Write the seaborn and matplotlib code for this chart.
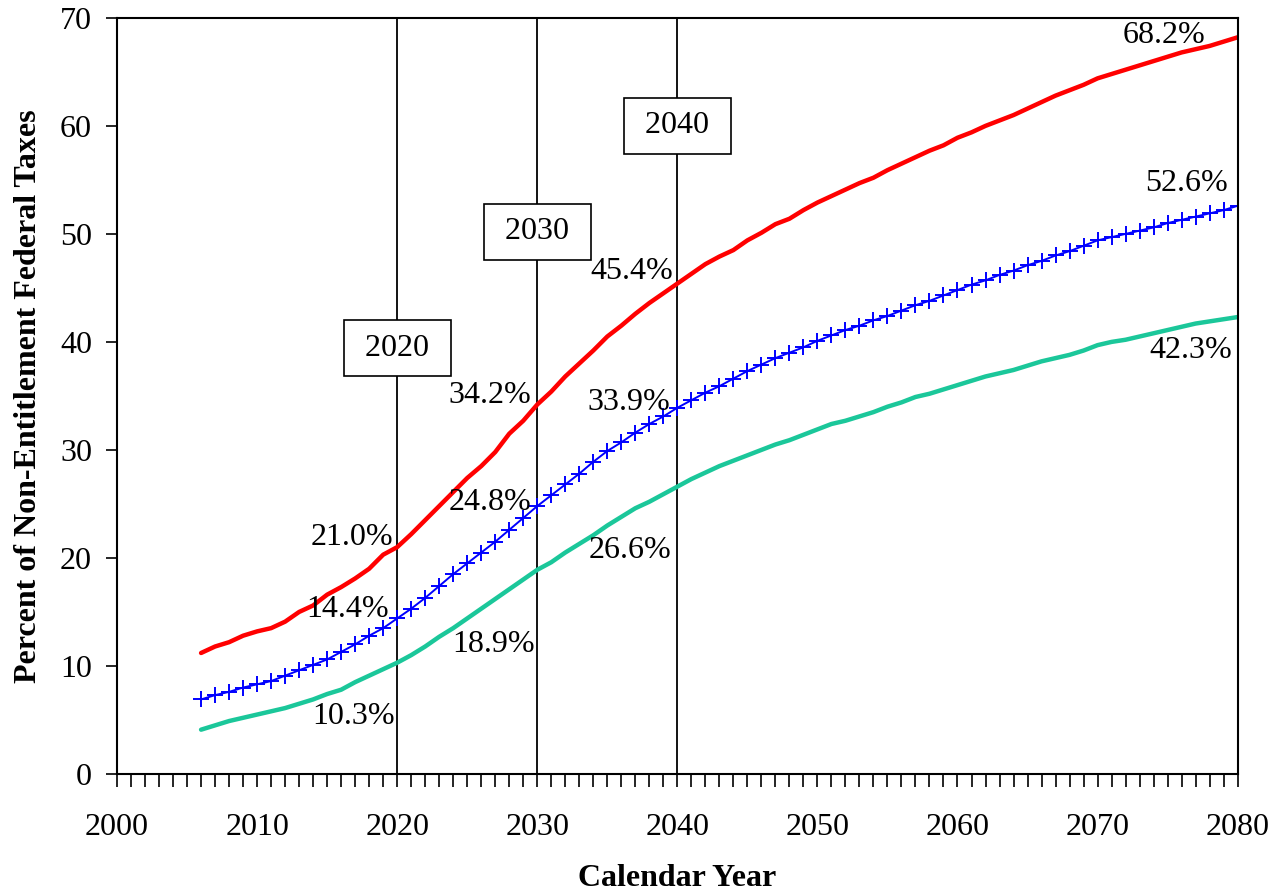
import numpy as np
import pandas as pd
import matplotlib.pyplot as plt
import seaborn as sns
from matplotlib.ticker import MultipleLocator

# Data (percent of non-entitlement federal taxes)
years = list(range(2006, 2081))
high = [11.2, 11.8, 12.2, 12.8, 13.2, 13.5, 14.1, 15.0, 15.6, 16.6, 17.3, 18.1, 19.0, 20.3, 21.0,
        22.2, 23.5, 24.8, 26.1, 27.4, 28.5, 29.8, 31.5, 32.7, 34.2,
        35.4, 36.8, 38.0, 39.2, 40.5, 41.5, 42.6, 43.6, 44.5, 45.4,
        46.3, 47.2, 47.9, 48.5, 49.4, 50.1, 50.9, 51.4, 52.2, 52.9,
        53.5, 54.1, 54.7, 55.2, 55.9, 56.5, 57.1, 57.7, 58.2, 58.9,
        59.4, 60.0, 60.5, 61.0, 61.6, 62.2, 62.8, 63.3, 63.8, 64.4,
        64.8, 65.2, 65.6, 66.0, 66.4, 66.8, 67.1, 67.4, 67.8, 68.2]
mid = [6.9, 7.3, 7.6, 8.0, 8.3, 8.6, 9.1, 9.6, 10.1, 10.6, 11.3, 12.0, 12.8, 13.5, 14.4,
       15.3, 16.3, 17.4, 18.5, 19.5, 20.5, 21.5, 22.6, 23.7, 24.8,
       25.8, 26.8, 27.8, 28.9, 29.9, 30.7, 31.6, 32.4, 33.1, 33.9,
       34.6, 35.3, 35.9, 36.6, 37.3, 37.9, 38.5, 39.0, 39.5, 40.1,
       40.6, 41.1, 41.5, 42.0, 42.4, 42.9, 43.4, 43.8, 44.3, 44.8,
       45.3, 45.7, 46.2, 46.6, 47.1, 47.5, 48.0, 48.4, 48.9, 49.4,
       49.7, 50.0, 50.3, 50.6, 51.0, 51.3, 51.6, 51.9, 52.2, 52.6]
low = [4.1, 4.5, 4.9, 5.2, 5.5, 5.8, 6.1, 6.5, 6.9, 7.4, 7.8, 8.5, 9.1, 9.7, 10.3,
       11.0, 11.8, 12.7, 13.5, 14.4, 15.3, 16.2, 17.1, 18.0, 18.9,
       19.6, 20.5, 21.3, 22.1, 23.0, 23.8, 24.6, 25.2, 25.9, 26.6,
       27.3, 27.9, 28.5, 29.0, 29.5, 30.0, 30.5, 30.9, 31.4, 31.9,
       32.4, 32.7, 33.1, 33.5, 34.0, 34.4, 34.9, 35.2, 35.6, 36.0,
       36.4, 36.8, 37.1, 37.4, 37.8, 38.2, 38.5, 38.8, 39.2, 39.7,
       40.0, 40.2, 40.5, 40.8, 41.1, 41.4, 41.7, 41.9, 42.1, 42.3]

marker_years = [2020, 2030, 2040]
box_y = [39.4, 50.2, 60.0]

# (text, x, y) labels placed to the left of the values
labels = [("21.0%", 2019.7, 21.9), ("14.4%", 2019.4, 15.2), ("10.3%", 2019.8, 5.3),
          ("34.2%", 2029.6, 35.0), ("24.8%", 2029.6, 25.1), ("18.9%", 2029.8, 12.0),
          ("45.4%", 2039.7, 46.5), ("33.9%", 2039.5, 34.4), ("26.6%", 2039.6, 20.7),
          ("68.2%", 2077.7, 68.4), ("52.6%", 2079.3, 54.7), ("42.3%", 2079.6, 39.2)]

df = pd.DataFrame({"Year": years, "High": high, "Mid": mid, "Low": low})

sns.set_style("white")
plt.rcParams['font.family'] = ['Liberation Serif', 'DejaVu Serif']
plt.rcParams['text.color'] = 'black'
plt.rcParams['axes.labelcolor'] = 'black'
plt.rcParams['xtick.color'] = 'black'
plt.rcParams['ytick.color'] = 'black'

fig = plt.figure(figsize=(12.72, 8.93), dpi=100)
ax = fig.add_axes([0.092, 0.1333, 0.881, 0.8467])

sns.lineplot(x="Year", y="High", data=df, color="#FF0000", linewidth=3.2, ax=ax)
sns.lineplot(x="Year", y="Mid", data=df, color="#0000FF", linewidth=1.4,
             marker="+", markersize=11, markeredgewidth=1.4, markeredgecolor="#0000FF", ax=ax)
sns.lineplot(x="Year", y="Low", data=df, color="#1BC79A", linewidth=3.2, ax=ax)

for yr, by in zip(marker_years, box_y):
    ax.axvline(yr, color="black", linewidth=1.3, zorder=1)
    ax.text(yr, by, " " + str(yr) + " ", ha="center", va="center", fontsize=23,
            bbox=dict(boxstyle="square,pad=0.42", facecolor="white", edgecolor="black", linewidth=1.2),
            zorder=4)

for txt, x, y in labels:
    ax.text(x, y, txt, ha="right", va="center", fontsize=23, zorder=5)

ax.set_xlim(2000, 2080)
ax.set_ylim(0, 70)
ax.xaxis.set_major_locator(MultipleLocator(10))
ax.xaxis.set_minor_locator(MultipleLocator(1))
ax.yaxis.set_major_locator(MultipleLocator(10))
ax.tick_params(axis="x", which="both", direction="out", length=9, width=1.2,
               labelsize=23, pad=19, bottom=True)
ax.tick_params(axis="y", direction="out", length=8, width=1.2, labelsize=23, pad=10, left=True)

for s in ax.spines.values():
    s.set_color("black")
    s.set_linewidth(1.5)

ax.set_xlabel("Calendar Year", fontsize=23, fontweight="bold", labelpad=16)
ax.set_ylabel("Percent of Non-Entitlement Federal Taxes", fontsize=23, fontweight="bold", labelpad=12)

fig.savefig("out.png", dpi=100)
plt.close()
